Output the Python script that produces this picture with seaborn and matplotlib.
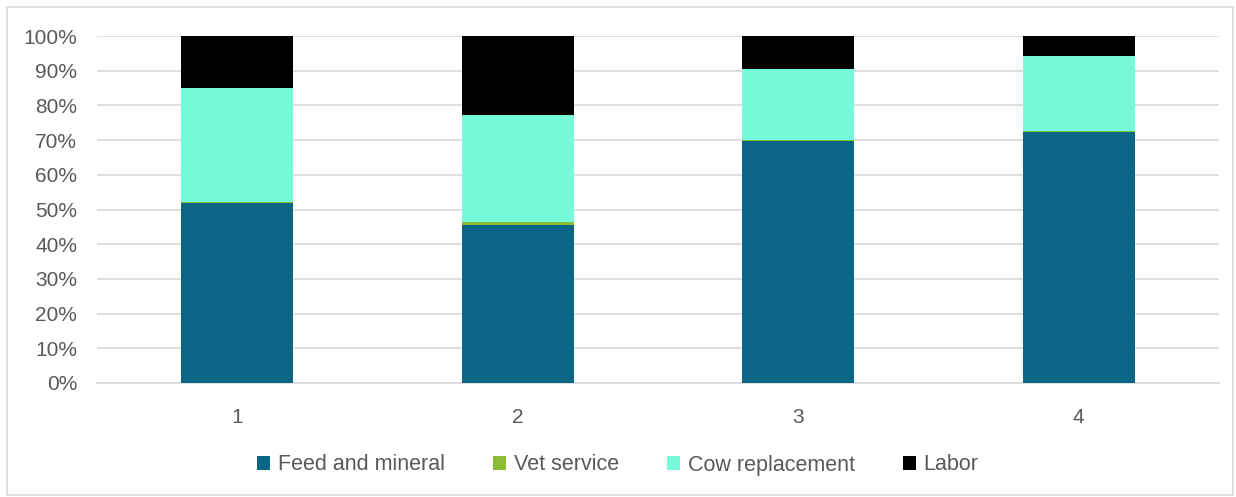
import matplotlib
matplotlib.use("Agg")
import matplotlib.pyplot as plt
from matplotlib.patches import Rectangle, Patch
from matplotlib.ticker import PercentFormatter
import numpy as np
import pandas as pd
import seaborn as sns

# Cost shares (%) for each group
groups = ["1", "2", "3", "4"]
feed_and_mineral = [51.9, 45.5, 69.8, 72.3]
vet_service = [0.4, 1.0, 0.2, 0.4]
cow_replacement = [32.7, 30.6, 20.6, 21.5]
labor = [15.0, 22.9, 9.4, 5.8]

series_names = ["Feed and mineral", "Vet service", "Cow replacement", "Labor"]
series_values = [feed_and_mineral, vet_service, cow_replacement, labor]
colors = ["#0B6584", "#8CBB35", "#75FBDA", "#000000"]

sns.set_theme(style="white")
plt.rcParams["font.family"] = ["Liberation Sans", "DejaVu Sans"]

fig = plt.figure(figsize=(12.36, 4.97), dpi=100)
ax = fig.add_axes([97 / 1236, 1 - 383 / 497, 1122 / 1236, 347 / 497])

# Stack via cumulative totals, drawing the tallest layer first
cum = np.cumsum(np.array(series_values), axis=0)
for i in range(len(series_names) - 1, -1, -1):
    df = pd.DataFrame({"group": groups, "value": cum[i]})
    sns.barplot(data=df, x="group", y="value", color=colors[i], width=0.4,
                saturation=1, linewidth=0, edgecolor="none", ax=ax, zorder=3)

ax.set_ylim(0, 100)
ax.set_xlim(-0.5, 3.5)
ax.set_yticks(np.arange(0, 101, 10))
ax.yaxis.set_major_formatter(PercentFormatter(decimals=0))
ax.set_xlabel("")
ax.set_ylabel("")
ax.grid(axis="y", color="#D9D9D9", linewidth=1.2, zorder=0)
ax.grid(axis="x", visible=False)
for side in ["top", "right", "left"]:
    ax.spines[side].set_visible(False)
ax.spines["bottom"].set_color("#D9D9D9")
ax.spines["bottom"].set_linewidth(1.2)
ax.tick_params(axis="both", length=0, labelsize=15, colors="#595959")
ax.tick_params(axis="y", pad=14.4)
ax.tick_params(axis="x", pad=18)

handles = [Patch(facecolor=c, edgecolor="none") for c in colors]
fig.legend(handles, series_names, loc="center", bbox_to_anchor=(0.5, 1 - 465 / 497),
           ncol=4, frameon=False, fontsize=15.5, handlelength=0.6, handleheight=0.6,
           handletextpad=0.35, columnspacing=2.25, labelcolor="#595959")

fig.add_artist(Rectangle((7 / 1236, 2 / 497), 1226 / 1236, 488 / 497,
                         transform=fig.transFigure, fill=False,
                         edgecolor="#D9D9D9", linewidth=1.2))

fig.savefig("out.png", dpi=100)
